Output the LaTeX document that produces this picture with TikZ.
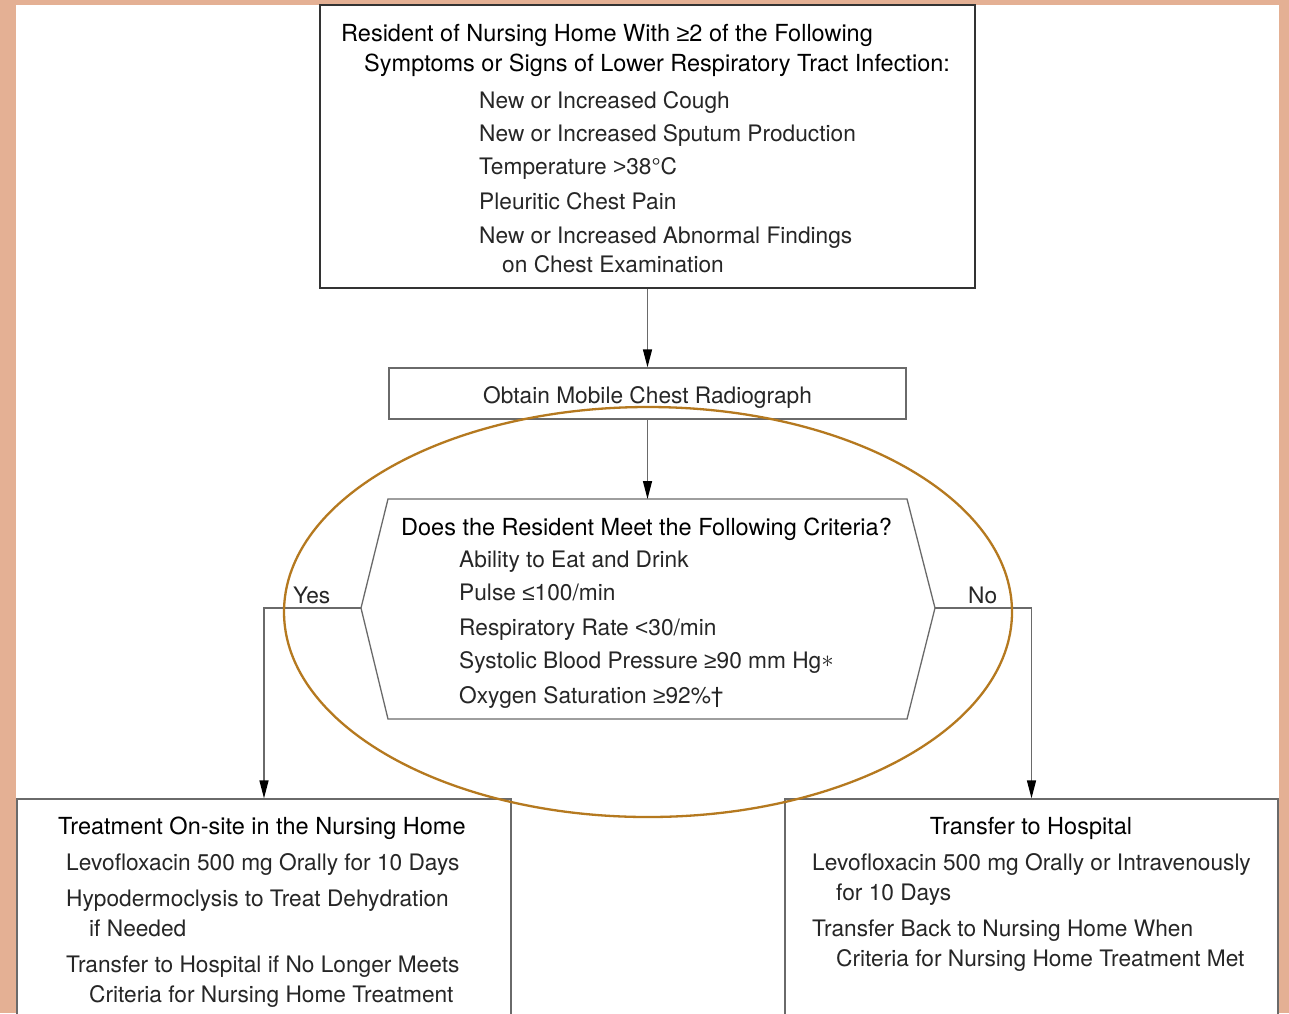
\documentclass[tikz,border=0pt]{standalone}
\usepackage{fontspec}
\setmainfont{TeX Gyre Heros}
\newfontfamily\symf{Liberation Sans}
\usetikzlibrary{arrows.meta}
\definecolor{salmon}{HTML}{E4B094}
\definecolor{oval}{HTML}{B5791F}
\definecolor{edge}{HTML}{6A6A6A}
\definecolor{itemc}{HTML}{262626}
\newcommand{\gsym}[1]{{\symf #1}}
\tikzset{
  boxn/.style={draw=edge, line width=1.3pt, rectangle, inner sep=0pt},
  hd/.style={anchor=base west, inner sep=0pt, font=\fontsize{23.5}{28}\selectfont, text=black},
  it/.style={anchor=base west, inner sep=0pt, font=\fontsize{22.7}{28}\selectfont, text=itemc},
  conn/.style={draw=edge, line width=1.4pt, -{Triangle[length=18pt,width=9pt,color=black]}},
}
\begin{document}
\begin{tikzpicture}[x=1pt,y=-1pt]
\fill[salmon] (0,0) rectangle (1289,1013);
\fill[white] (16,5) rectangle (1279,1013);
\clip (0,0) rectangle (1289,1013);

% boxes
\node[boxn, draw=black!80, minimum width=655pt, minimum height=283pt] (top) at (647.5,146.5) {};
\node[boxn, minimum width=517pt, minimum height=51pt] (radio) at (647.5,393.5) {};
\node[boxn, minimum width=494pt, minimum height=241pt] (lbox) at (264,919.5) {};
\node[boxn, minimum width=493pt, minimum height=241pt] (rbox) at (1031.5,919.5) {};

% hexagon
\coordinate (hexT) at (647.5,499);
\coordinate (hexL) at (361,608);
\coordinate (hexR) at (935,608);
\draw[edge, line width=1.3pt] (388,499) -- (907,499) -- (hexR) -- (907,719) -- (388,719) -- (hexL) -- cycle;

% connectors
\draw[conn] (top.south) -- (radio.north);
\draw[conn] (radio.south) -- (hexT);
\draw[conn] (hexL) -| (lbox.north);
\draw[conn] (hexR) -| (rbox.north);
\node[it] (yes) at (293,603) {Yes};
\node[it] (no) at (968,603) {No};

% top box text
\node[hd] (t1) at (341,41) {Resident of Nursing Home With \gsym{≥}2 of the Following};
\node[hd] (t2) at (364,71) {Symptoms or Signs of Lower Respiratory Tract Infection:};
\node[it] (t3) at (479,108) {New or Increased Cough};
\node[it] (t4) at (479,141) {New or Increased Sputum Production};
\node[it] (t5) at (479,174) {Temperature \gsym{>}38°C};
\node[it] (t6) at (479,209) {Pleuritic Chest Pain};
\node[it] (t7) at (479,243) {New or Increased Abnormal Findings};
\node[it] (t8) at (502,272) {on Chest Examination};

% radiograph
\node[it, anchor=base] (r1) at (647.5,403) {Obtain Mobile Chest Radiograph};

% criteria
\node[hd] (c0) at (401,535) {Does the Resident Meet the Following Criteria?};
\node[it] (c1) at (459,567) {Ability to Eat and Drink};
\node[it] (c2) at (459,600) {Pulse \gsym{≤}100/min};
\node[it] (c3) at (459,635) {Respiratory Rate \gsym{<}30/min};
\node[it] (c4) at (459,668) {Systolic Blood Pressure \gsym{≥}90 mm Hg{\fontsize{24}{24}\selectfont\raisebox{1pt}{$\ast$}}};
\node[it] (c5) at (459,703) {Oxygen Saturation \gsym{≥}92\%†};

% left box text
\node[hd] (l0) at (58,834) {Treatment On-site in the Nursing Home};
\node[it] (l1) at (66,870) {Levofloxacin 500 mg Orally for 10 Days};
\node[it] (l2) at (66,906) {Hypodermoclysis to Treat Dehydration};
\node[it] (l3) at (89,936) {if Needed};
\node[it] (l4) at (66,972) {Transfer to Hospital if No Longer Meets};
\node[it] (l5) at (89,1002) {Criteria for Nursing Home Treatment};

% right box text
\node[hd, anchor=base] (h0) at (1031,834) {Transfer to Hospital};
\node[it] (h1) at (812,870) {Levofloxacin 500 mg Orally or Intravenously};
\node[it] (h2) at (836,900) {for 10 Days};
\node[it] (h3) at (812,936) {Transfer Back to Nursing Home When};
\node[it] (h4) at (836,966) {Criteria for Nursing Home Treatment Met};

% highlight oval
\draw[oval, line width=2.3pt] (648,612) ellipse [x radius=364, y radius=205];
\end{tikzpicture}
\end{document}
